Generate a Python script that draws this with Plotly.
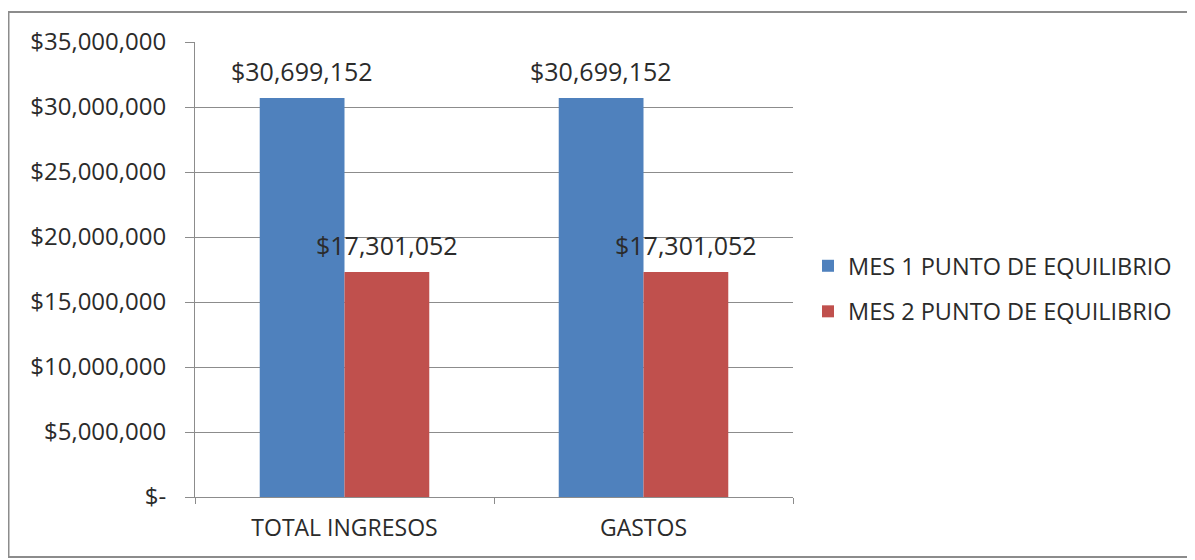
import plotly.graph_objects as go

categories = ["TOTAL INGRESOS", "GASTOS"]
series_names = ["MES 1 PUNTO DE EQUILIBRIO", "MES 2 PUNTO DE EQUILIBRIO"]
mes1_values = [30699152, 30699152]
mes2_values = [17301052, 17301052]
tick_values = [0, 5000000, 10000000, 15000000, 20000000, 25000000, 30000000, 35000000]
tick_labels = ["$-", "$5,000,000", "$10,000,000", "$15,000,000", "$20,000,000",
               "$25,000,000", "$30,000,000", "$35,000,000"]

colors = ["#4F81BD", "#C0504D"]
FONT = "Open Sans"
TXT = "#2B2B2B"
GRID = "#8C8C8C"

# page body has an 8px margin: figure origin is at screen (8, 8)
OFF = 8
W, H = 1195, 560
L = 195 - OFF
T = 42 - OFF
R = W - (793 - OFF)
B = H - (497 - OFF)
pw, ph = W - L - R, H - T - B

fig = go.Figure()
for name, vals, col in zip(series_names, [mes1_values, mes2_values], colors):
    fig.add_trace(go.Bar(
        x=categories, y=vals, name=name, marker=dict(color=col, line=dict(width=0)),
        legendgroup=name,
    ))

# data labels
annotations = []
for i, vals in enumerate([mes1_values, mes2_values]):
    shift = (-1 if i == 0 else 1) * 42.5
    for c, v in zip(categories, vals):
        annotations.append(dict(
            x=c, y=v, xref="x", yref="y", text="${:,.0f}".format(v),
            showarrow=False, xshift=shift, yshift=27, yanchor="middle",
            font=dict(family=FONT, size=25, color=TXT),
        ))

fig.update_layout(
    width=W, height=H,
    margin=dict(l=L, r=R, t=T, b=B, autoexpand=False),
    paper_bgcolor="white", plot_bgcolor="white",
    barmode="group", bargap=0.433, bargroupgap=0,
    font=dict(family=FONT, size=22, color=TXT),
    legend=dict(
        x=(808 - 195) / pw, y=(497 - 289) / ph, xanchor="left", yanchor="middle",
        font=dict(family=FONT, size=23.5, color=TXT),
        traceorder="grouped", tracegroupgap=12, itemwidth=30,
        bgcolor="rgba(0,0,0,0)",
    ),
    annotations=annotations,
    shapes=[dict(
        type="rect", xref="paper", yref="paper",
        x0=(0.5 - L) / pw, x1=(1185 - L) / pw,
        y0=(489 - 549) / ph, y1=(489 - 4) / ph,
        line=dict(color=GRID, width=2), fillcolor="rgba(0,0,0,0)", layer="below",
    )],
)

fig.update_yaxes(
    range=[0, 35000000], tickvals=tick_values, ticktext=tick_labels,
    showgrid=True, gridcolor=GRID, gridwidth=1,
    showline=True, linecolor=GRID, linewidth=1,
    ticks="outside", ticklen=9, tickcolor=GRID, ticklabelstandoff=14,
    tickfont=dict(family=FONT, size=24, color=TXT), zeroline=False,
)
fig.update_xaxes(
    showline=True, linecolor=GRID, linewidth=1,
    ticks="outside", tickson="boundaries", ticklen=6, tickcolor=GRID,
    ticklabelstandoff=10,
    tickfont=dict(family=FONT, size=23, color=TXT), showgrid=False,
)

fig.write_html("out.html")
